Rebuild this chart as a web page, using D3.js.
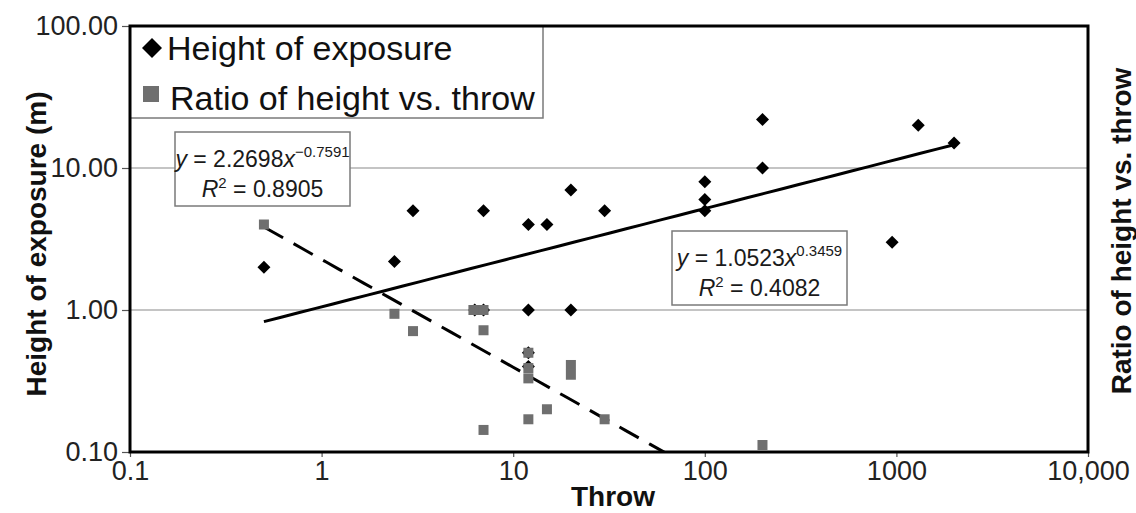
<!DOCTYPE html>
<html>
<head>
<meta charset="utf-8">
<script src="https://cdn.jsdelivr.net/npm/d3@7"></script>
<style>
  html, body { margin: 0; padding: 0; background: #fff; }
  svg { display: block; font-family: "Liberation Sans", Arial, sans-serif; }
</style>
</head>
<body>
<svg id="chart" width="1136" height="513"></svg>
<script>
// Height of exposure (m) against fault throw
const heightThrow = [0.5, 2.4, 3, 7, 12, 15, 20, 30, 12, 20, 100, 100, 100, 200, 200, 950, 1300, 2000, 6.3, 7, 12, 12];
const heightValue = [2, 2.2, 5, 5, 4, 4, 7, 5, 1, 1, 8, 6, 5, 22, 10, 3, 20, 15, 1, 1, 0.5, 0.4];

// Ratio of height vs. throw
const ratioThrow = [0.5, 2.4, 3, 6.2, 6.6, 7, 7, 12, 12, 12, 20, 20, 15, 12, 7, 30, 200];
const ratioValue = [4, 0.94, 0.71, 1, 1, 1, 0.72, 0.5, 0.39, 0.33, 0.41, 0.35, 0.2, 0.17, 0.143, 0.17, 0.112];

// Power-law fits y = a * x^b
const heightFit = [1.0523, 0.3459, 0.4082];   // a, b, R²
const ratioFit  = [2.2698, -0.7591, 0.8905];

// Axes
const xTicks = [0.1, 1, 10, 100, 1000, 10000];
const xTickLabels = ["0.1", "1", "10", "100", "1000", "10,000"];
const yTicks = [0.1, 1, 10, 100];
const yTickLabels = ["0.10", "1.00", "10.00", "100.00"];
const gridValues = [1, 10];

const svg = d3.select("#chart");
const plotL = 130, plotR = 1088, plotT = 26, plotB = 452;

const x = d3.scaleLog().domain([0.1, 10000]).range([plotL, plotR]);
const y = d3.scaleLog().domain([0.1, 100]).range([plotB, plotT]);

svg.append("rect").attr("width", 1136).attr("height", 513).attr("fill", "#fff");

svg.append("defs").append("clipPath").attr("id", "plot-clip")
  .append("rect").attr("x", plotL).attr("y", plotT)
  .attr("width", plotR - plotL).attr("height", plotB - plotT);

// gridlines
svg.append("g").selectAll("line").data(gridValues).join("line")
  .attr("x1", plotL).attr("x2", plotR)
  .attr("y1", d => y(d)).attr("y2", d => y(d))
  .attr("stroke", "#8a8a8a").attr("stroke-width", 1.2);

// axes
const yAxis = d3.axisLeft(y).tickValues(yTicks)
  .tickFormat((d, i) => yTickLabels[i]).tickSize(8).tickPadding(4);
const gy = svg.append("g").attr("transform", `translate(${plotL},0)`).call(yAxis);

const xAxis = d3.axisBottom(x).tickValues(xTicks)
  .tickFormat((d, i) => xTickLabels[i]).tickSize(5).tickPadding(4);
const gx = svg.append("g").attr("transform", `translate(0,${plotB})`).call(xAxis);

[gx, gy].forEach(g => {
  g.select(".domain").remove();
  g.selectAll(".tick line").attr("stroke", "#555").attr("stroke-width", 1.2);
  g.selectAll(".tick text").attr("fill", "#222").style("font-size", "27px")
    .style("font-family", '"Liberation Sans", Arial, sans-serif');
});

// trend lines
function fitPath(fit, xs) {
  const xMin = d3.min(xs), xMax = d3.max(xs);
  const steps = d3.range(0, 41).map(i => xMin * Math.pow(xMax / xMin, i / 40));
  return d3.line().x(d => x(d)).y(d => y(fit[0] * Math.pow(d, fit[1])))(steps);
}
const trends = svg.append("g").attr("clip-path", "url(#plot-clip)");
trends.append("path").attr("d", fitPath(heightFit, heightThrow))
  .attr("fill", "none").attr("stroke", "#000").attr("stroke-width", 3);
trends.append("path").attr("d", fitPath(ratioFit, ratioThrow))
  .attr("fill", "none").attr("stroke", "#000").attr("stroke-width", 3)
  .attr("stroke-dasharray", "22,12");

// markers
const diamond = r => `M0,${-r}L${r},0L0,${r}L${-r},0Z`;
svg.append("g").selectAll("path").data(heightThrow).join("path")
  .attr("d", diamond(6.5))
  .attr("transform", (d, i) => `translate(${x(d)},${y(heightValue[i])})`)
  .attr("fill", "#000");

const sq = 10;
svg.append("g").selectAll("rect").data(ratioThrow).join("rect")
  .attr("x", d => x(d) - sq / 2)
  .attr("y", (d, i) => y(ratioValue[i]) - sq / 2)
  .attr("width", sq).attr("height", sq)
  .attr("fill", "#6f6f6f");

// equation labels
function equationBox(fit, bx, by) {
  const w = 175, h = 74, cx = bx + w / 2;
  const g = svg.append("g").style("font-size", "23px").attr("fill", "#1a1a1a");
  g.append("rect").attr("x", bx).attr("y", by).attr("width", w).attr("height", h)
    .attr("fill", "#fff").attr("stroke", "#7a7a7a").attr("stroke-width", 1.5);
  const expText = (fit[1] < 0 ? "\u2212" : "") + Math.abs(fit[1]).toFixed(4);
  const t1 = g.append("text").attr("x", cx).attr("y", by + 35).attr("text-anchor", "middle");
  t1.append("tspan").attr("font-style", "italic").text("y");
  t1.append("tspan").text(" = " + fit[0].toFixed(4));
  t1.append("tspan").attr("font-style", "italic").text("x");
  t1.append("tspan").attr("dy", -10).style("font-size", "15px").text(expText);
  const t2 = g.append("text").attr("x", cx).attr("y", by + 65).attr("text-anchor", "middle");
  t2.append("tspan").attr("font-style", "italic").text("R");
  t2.append("tspan").attr("dy", -9).style("font-size", "15px").text("2");
  t2.append("tspan").attr("dy", 9).text(" = " + fit[2].toFixed(4));
}
equationBox(ratioFit, 175, 132);
equationBox(heightFit, 672, 231);

// legend
const lg = svg.append("g");
lg.append("rect").attr("x", plotL).attr("y", plotT).attr("width", 413).attr("height", 92)
  .attr("fill", "#fff").attr("stroke", "#7a7a7a").attr("stroke-width", 1.5);
lg.append("path").attr("d", diamond(10)).attr("transform", "translate(152,48)").attr("fill", "#000");
lg.append("rect").attr("x", 143).attr("y", 86).attr("width", 16).attr("height", 16).attr("fill", "#6f6f6f");
lg.append("text").attr("x", 167).attr("y", 60).style("font-size", "34px").attr("fill", "#111")
  .text("Height of exposure");
lg.append("text").attr("x", 170).attr("y", 110).style("font-size", "34px").attr("fill", "#111")
  .text("Ratio of height vs. throw");

// frame
svg.append("rect").attr("x", plotL).attr("y", plotT)
  .attr("width", plotR - plotL).attr("height", plotB - plotT)
  .attr("fill", "none").attr("stroke", "#000").attr("stroke-width", 3);

// axis titles
svg.append("text").attr("x", 613).attr("y", 506).attr("text-anchor", "middle")
  .style("font-size", "28px").style("font-weight", "bold").attr("fill", "#111").text("Throw");
svg.append("text").attr("transform", "translate(46,244) rotate(-90)").attr("text-anchor", "middle")
  .style("font-size", "28px").style("font-weight", "bold").attr("fill", "#111")
  .text("Height of exposure (m)");
svg.append("text").attr("transform", "translate(1131,231) rotate(-90)").attr("text-anchor", "middle")
  .style("font-size", "28px").style("font-weight", "bold").attr("fill", "#111")
  .text("Ratio of height vs. throw");
</script>
</body>
</html>
